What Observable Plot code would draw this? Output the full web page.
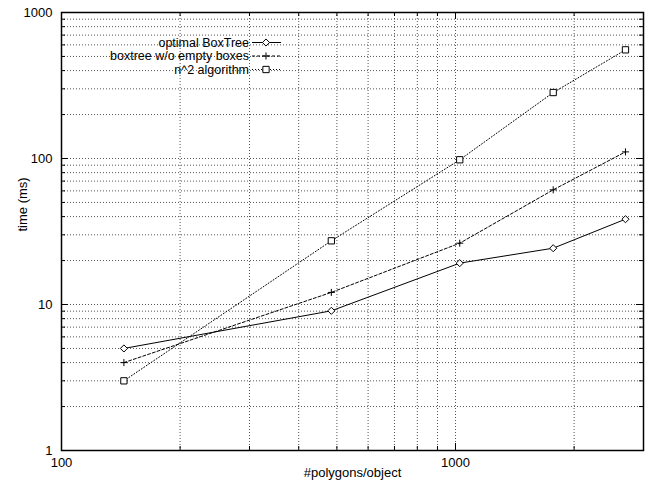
<!DOCTYPE html>
<html>
<head>
<meta charset="utf-8">
<script src="https://cdn.jsdelivr.net/npm/d3@7"></script>
<script src="https://cdn.jsdelivr.net/npm/@observablehq/plot@0.6"></script>
<style>
  html, body { margin: 0; padding: 0; background: #fff; }
  #chart svg { display: block; }
</style>
</head>
<body>
<div id="chart"></div>
<script>
// ---- data ----
const polygons = [144, 484, 1025, 1770, 2700];
const optimalBoxTree = [5.0, 9.05, 19.2, 24.3, 38.4];
const boxtreeNoEmpty = [4.0, 12.1, 26.3, 61, 111];
const n2Algorithm = [3.0, 27.3, 98, 283, 555];

const seriesNames = ["optimal BoxTree", "boxtree w/o empty boxes", "n^2 algorithm"];

// ---- axis ticks ----
const xMajor = [100, 1000];
const xMinor = [200, 300, 400, 500, 600, 700, 800, 900, 2000, 3000];
const yMajor = [1, 10, 100, 1000];
const yMinor = [2, 3, 4, 5, 6, 7, 8, 9, 20, 30, 40, 50, 60, 70, 80, 90, 200, 300, 400, 500, 600, 700, 800, 900];

// ---- styles ----
const styles = [
  {symbol: "diamond2", r: 3.2, dash: null},
  {symbol: "plus", r: 2.4, dash: "3,2"},
  {symbol: "square2", r: 4.0, dash: "1,2"}
];
const seriesValues = [optimalBoxTree, boxtreeNoEmpty, n2Algorithm];
const tables = seriesValues.map((vals, s) => polygons.map((x, i) => ({x, y: vals[i], s})));

const W = 652, H = 489;
const mL = 61, mT = 12, mR = 9, mB = 39;
const innerW = W - mL - mR, innerH = H - mT - mB;
const FONT = "'Liberation Sans', Arial, Helvetica, sans-serif";
const gridStyle = {stroke: "#555", strokeWidth: 1, strokeDasharray: "1,2"};

function legendMark(index, scales, values, dimensions) {
  const g = d3.create("svg:g").attr("font-family", FONT).attr("font-size", 12.5);
  const textRight = 249, lineX1 = 252, lineX2 = 281, symX = 266;
  const rowY = [42.5, 56, 69.5];
  const symTypes = [d3.symbolDiamond2, d3.symbolPlus, d3.symbolSquare2];
  seriesNames.forEach((name, i) => {
    const y = rowY[i];
    g.append("text").attr("x", textRight).attr("y", y).attr("dy", "0.35em")
      .attr("text-anchor", "end").attr("fill", "black").text(name);
    const ln = g.append("line").attr("x1", lineX1).attr("x2", lineX2)
      .attr("y1", y).attr("y2", y).attr("stroke", "black").attr("stroke-width", 1);
    if (styles[i].dash) ln.attr("stroke-dasharray", styles[i].dash);
    g.append("path").attr("transform", `translate(${symX},${y})`)
      .attr("d", d3.symbol(symTypes[i], Math.PI * styles[i].r * styles[i].r)())
      .attr("fill", i === 1 ? "none" : "white").attr("stroke", "black").attr("stroke-width", 1);
  });
  return g.node();
}

const marks = [
  // grid
  Plot.ruleX(xMinor, gridStyle),
  Plot.ruleX(xMajor, gridStyle),
  Plot.ruleY(yMinor, gridStyle),
  Plot.ruleY(yMajor, gridStyle),
  // inward ticks (bottom, top, left, right)
  Plot.ruleX(xMajor, {stroke: "black", insetTop: innerH - 7}),
  Plot.ruleX(xMajor, {stroke: "black", insetBottom: innerH - 7}),
  Plot.ruleX(xMinor, {stroke: "black", insetTop: innerH - 4}),
  Plot.ruleX(xMinor, {stroke: "black", insetBottom: innerH - 4}),
  Plot.ruleY(yMajor, {stroke: "black", insetRight: innerW - 7}),
  Plot.ruleY(yMajor, {stroke: "black", insetLeft: innerW - 7}),
  Plot.ruleY(yMinor, {stroke: "black", insetRight: innerW - 4}),
  Plot.ruleY(yMinor, {stroke: "black", insetLeft: innerW - 4}),
  // axes labels
  Plot.axisX({ticks: xMajor, tickSize: 0, tickPadding: 7, tickFormat: d => String(d), fontSize: 13, label: null}),
  Plot.axisY({ticks: yMajor, tickSize: 0, tickPadding: 9, tickFormat: d => String(d), fontSize: 13, label: null}),
  Plot.text(["time (ms)"], {frameAnchor: "left", rotate: -90, dx: -39, fontSize: 13, fill: "black"}),
  Plot.text(["#polygons/object"], {frameAnchor: "bottom", dy: 26, fontSize: 13, fill: "black"}),
  // series
  ...tables.map((t, s) => Plot.line(t, {x: "x", y: "y", stroke: "black", strokeWidth: 1, strokeDasharray: styles[s].dash || undefined})),
  ...tables.map((t, s) => Plot.dot(t, {x: "x", y: "y", symbol: styles[s].symbol, r: styles[s].r, stroke: "black", strokeWidth: 1, fill: s === 1 ? "none" : "white"})),
  legendMark,
  Plot.frame({stroke: "black", strokeWidth: 1.5})
];

const chart = Plot.plot({
  width: W, height: H,
  marginLeft: mL, marginTop: mT, marginRight: mR, marginBottom: mB,
  style: {fontFamily: FONT, fontSize: "13px", color: "black", background: "white"},
  x: {type: "log", domain: [100, 3000]},
  y: {type: "log", domain: [1, 1000]},
  marks
});
document.getElementById("chart").appendChild(chart);
</script>
</body>
</html>
